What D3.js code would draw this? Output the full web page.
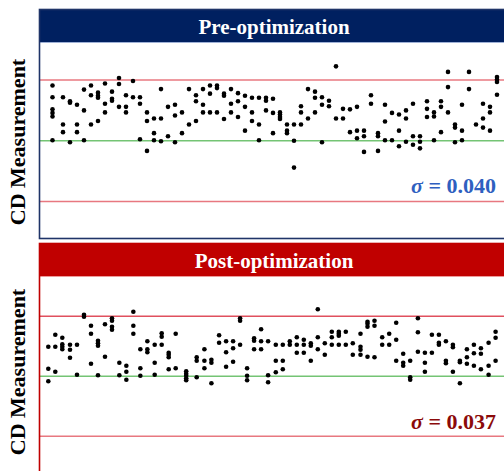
<!DOCTYPE html>
<html>
<head>
<meta charset="utf-8">
<script src="https://cdn.jsdelivr.net/npm/d3@7"></script>
<style>
  body { margin: 0; background: #fff; }
  svg { display: block; }
</style>
</head>
<body>
<svg id="canvas"></svg>
<script>
// CD measurements per sample position (x) - each position has a few sites
const preX = [-0.5, 1, 2, 3, 4, 5, 6, 7, 8, 9, 10, 11, 12, 13, 14, 15, 16, 17, 18, 19, 20,
  21, 22, 23, 24, 25, 26, 27, 28, 29, 30, 31, 32, 33, 34, 35, 36, 37, 38, 39, 40,
  41, 42, 43, 44, 45, 46, 47, 48, 49, 50, 51, 52, 53, 54, 55, 56, 57, 58, 59, 60,
  61, 62, 63]
const preY = [
  [45.109, 45.086, 45.062, 45.055, 45.048, 45.001],
  [45.086, 45.032, 45.017],
  [45.078, 45.075, 44.997],
  [45.071, 45.032, 45.017],
  [45.101, 45.060, 45.001],
  [45.109, 45.090, 45.032],
  [45.095, 45.089, 45.085, 45.039],
  [45.113, 45.073, 45.056],
  [45.097, 45.083, 45.079],
  [45.124, 45.112, 45.067],
  [45.090, 45.067, 45.056],
  [45.118, 45.086],
  [45.086, 45.073, 45.003],
  [45.056, 45.039, 44.980],
  [45.044, 45.015, 45.001],
  [45.102, 45.044, 44.999],
  [45.067, 45.009],
  [45.071, 45.050, 44.997],
  [45.056, 45.015],
  [45.102, 45.032],
  [45.090, 45.078, 45.039],
  [45.102, 45.071, 45.056],
  [45.109, 45.093, 45.056],
  [45.109, 45.104, 45.056],
  [45.093, 45.089, 45.043],
  [45.102, 45.073, 45.056],
  [45.094, 45.078, 45.047],
  [45.089, 45.067, 45.020],
  [45.085, 45.056, 45.039],
  [45.085, 45.032, 45.001],
  [45.085, 45.079, 45.060],
  [45.083, 45.055, 45.015],
  [45.056, 45.052, 45.047, 45.043],
  [45.032, 45.020, 45.015],
  [45.032, 45.000, 44.947],
  [45.068, 45.056, 45.032],
  [45.102, 45.044],
  [45.097, 45.085, 45.056],
  [45.086, 45.071, 44.997],
  [45.079, 45.068],
  [45.147, 45.044],
  [45.063, 45.044],
  [45.062, 45.017],
  [45.067, 45.020, 45.005],
  [45.020, 45.009, 44.978],
  [45.090, 45.073],
  [45.015, 45.009, 44.980],
  [45.071, 45.038, 45.001],
  [45.055, 45.001],
  [45.052, 45.020, 44.989],
  [45.060, 45.044, 44.998],
  [45.073, 45.009, 44.992],
  [45.009, 44.998, 44.985],
  [45.078, 45.063, 45.047],
  [45.056, 45.048, 45.001],
  [45.078, 45.067, 45.017],
  [45.136, 45.106, 45.056],
  [45.032, 45.026, 44.997],
  [45.071, 45.020, 45.001],
  [45.136, 45.102],
  [45.032],
  [45.073, 45.044, 45.026],
  [45.067, 45.056, 45.020],
  [45.126, 45.121, 45.116, 45.091]
]

const postX = [-1.1, -0.1, 0.9, 2, 3, 4, 5, 6, 7, 8, 9.05, 10.05, 11.05, 12.05, 13.05,
  14.1, 15.1, 16.1, 17.1, 18.6, 20.1, 21.2, 22.2, 23.3, 24.3, 25.3, 26.3, 27.3, 28.3,
  29.3, 30.3, 31.4, 32.4, 33.4, 34.4, 35.4, 36.4, 37.4, 38.4, 39.4, 40.4, 41.4, 42.4,
  43.5, 44.5, 45.5, 46.6, 47.6, 48.6, 49.6, 50.6, 51.7, 52.7, 53.7, 54.7, 55.7, 56.7,
  57.7, 58.7, 59.7, 60.7, 61.8, 62.8]
const postY = [
  [45.059, 45.015, 44.990],
  [45.083, 45.059, 45.009],
  [45.077, 45.064, 45.059, 45.054],
  [45.063, 45.053, 45.037],
  [45.063, 45.003],
  [45.123, 45.119],
  [45.101, 45.085, 45.025],
  [45.071, 45.066, 45.061, 45.002],
  [45.104, 45.039],
  [45.116, 45.111, 45.099, 45.093],
  [45.027, 45.002],
  [45.021, 45.009, 44.993],
  [45.129, 45.101, 45.085],
  [45.054, 45.016, 45.001],
  [45.070, 45.054, 45.048],
  [45.063, 45.027, 45.003],
  [45.086, 45.079, 45.063],
  [45.047, 45.043, 45.038, 45.014],
  [45.085, 45.016],
  [45.010, 45.005, 45.001, 44.996, 44.992],
  [45.038, 45.031, 44.998],
  [45.054, 45.031, 45.016],
  [45.033, 45.027, 44.986],
  [45.082, 45.067],
  [45.070, 45.048, 45.019],
  [45.070, 45.056, 45.029],
  [45.116, 45.111, 45.063],
  [45.016, 45.001, 44.992],
  [45.076, 45.071, 45.054],
  [45.094, 45.070, 45.054],
  [45.070, 45.002, 44.988],
  [45.063, 45.031, 45.008],
  [45.063, 45.031, 45.014],
  [45.070, 45.063],
  [45.078, 45.063, 45.047],
  [45.073, 45.063, 45.047],
  [45.066, 45.061, 45.031],
  [45.134, 45.078, 45.054],
  [45.066, 45.043],
  [45.089, 45.078, 45.063],
  [45.089, 45.085, 45.081, 45.063],
  [45.089, 45.063],
  [45.066, 45.043],
  [45.085, 45.059, 45.053, 45.043],
  [45.109, 45.105, 45.099, 45.039],
  [45.111, 45.101, 45.038],
  [45.078, 45.063],
  [45.085, 45.063],
  [45.107, 45.073, 45.031],
  [45.045, 45.027, 45.021],
  [45.031, 44.998, 44.993],
  [45.116, 45.088, 45.049],
  [45.047, 45.027, 45.009],
  [45.083, 45.047],
  [45.083, 45.067, 45.063],
  [45.070, 45.031, 45.026],
  [45.063, 45.058, 45.009],
  [45.031, 45.028, 44.986],
  [45.054, 45.038, 45.025],
  [45.063, 45.046, 45.021],
  [45.056, 45.045, 45.014],
  [45.067, 45.021, 45.003],
  [45.089, 45.077, 45.031]
]

const titles = ["Pre-optimization", "Post-optimization"]
const sigmas = ["0.040", "0.037"]
const target = 45.00
const limits = [45.12, 44.88]   // upper / lower control limits

const width = 504
const height = 471

let canvas = d3.select("#canvas")
  .attr("width", width)
  .attr("height", height)

let xScale = d3.scaleLinear().domain([-1, 63]).range([49, 497])

// panel layout: frame top, bar bottom, plot bottom, y range for the limits
const panels = [
  { top: 9.5, bar: 42, bottom: 238.5, yr: [201.5, 80], frame: "#1f3468", fill: "#002060", sigmaColor: "#2f5fc0", sigmaY: 193, upper: "#e87880", xs: preX, ys: preY },
  { top: 243.5, bar: 276, bottom: 490, yr: [436.3, 316.3], frame: "#c00000", fill: "#c00000", sigmaColor: "#8b0a0a", sigmaY: 429, upper: "#e0505e", xs: postX, ys: postY }
]

let drawPanel = (p, i) => {
  let yScale = d3.scaleLinear().domain(limits.slice().reverse()).range(p.yr)
  let g = canvas.append("g")

  // title bar
  g.append("rect")
    .attr("x", 39.5).attr("y", p.top)
    .attr("width", 480).attr("height", p.bar - p.top)
    .attr("fill", p.fill)
  g.append("line")
    .attr("x1", 39.5).attr("x2", 520)
    .attr("y1", p.bar + 0.5).attr("y2", p.bar + 0.5)
    .attr("stroke", i == 0 ? "#9fb1d6" : "#ef9a9a").attr("stroke-width", 1)

  g.append("text")
    .attr("x", 274).attr("y", p.top + 24)
    .attr("text-anchor", "middle")
    .attr("fill", "#fff")
    .style("font-family", "'Liberation Serif', 'Times New Roman', serif")
    .style("font-weight", "bold")
    .style("font-size", "21px")
    .text(titles[i])

  // limit lines + target
  g.selectAll(".limit")
    .data(limits)
    .enter()
    .append("line")
    .attr("x1", 40).attr("x2", 520)
    .attr("y1", d => yScale(d)).attr("y2", d => yScale(d))
    .attr("stroke", (d, j) => j == 0 ? p.upper : "#e87880").attr("stroke-width", 1.5)
  g.append("line")
    .attr("x1", 40).attr("x2", 520)
    .attr("y1", yScale(target)).attr("y2", yScale(target))
    .attr("stroke", "#74c474").attr("stroke-width", 1.5)

  // points
  let pts = []
  p.xs.forEach((x, j) => {
    p.ys[j].forEach(v => pts.push([x, v]))
  })
  g.selectAll(".pt")
    .data(pts)
    .enter()
    .append("circle")
    .attr("cx", d => xScale(d[0]))
    .attr("cy", d => yScale(d[1]))
    .attr("r", 2.3)
    .attr("fill", "#000")

  // sigma label
  let t = g.append("text")
    .attr("x", 496).attr("y", p.sigmaY)
    .attr("text-anchor", "end")
    .attr("fill", p.sigmaColor)
    .style("font-family", "'Liberation Serif', 'Times New Roman', serif")
    .style("font-weight", "bold")
    .style("font-size", "22px")
  t.append("tspan").style("font-style", "italic").text("\u03c3")
  t.append("tspan").text(" = " + sigmas[i])

  // frame
  g.append("rect")
    .attr("x", 39.5).attr("y", p.top)
    .attr("width", 480).attr("height", p.bottom - p.top)
    .attr("fill", "none")
    .attr("stroke", p.frame).attr("stroke-width", 1.6)

  // y label
  g.append("text")
    .attr("transform", `translate(25, ${i == 0 ? 142 : 372}) rotate(-90)`)
    .attr("text-anchor", "middle")
    .attr("fill", "#000")
    .style("font-family", "'Liberation Serif', 'Times New Roman', serif")
    .style("font-weight", "bold")
    .style("font-size", "22px")
    .text("CD Measurement")
}

panels.forEach(drawPanel)
</script>
</body>
</html>
